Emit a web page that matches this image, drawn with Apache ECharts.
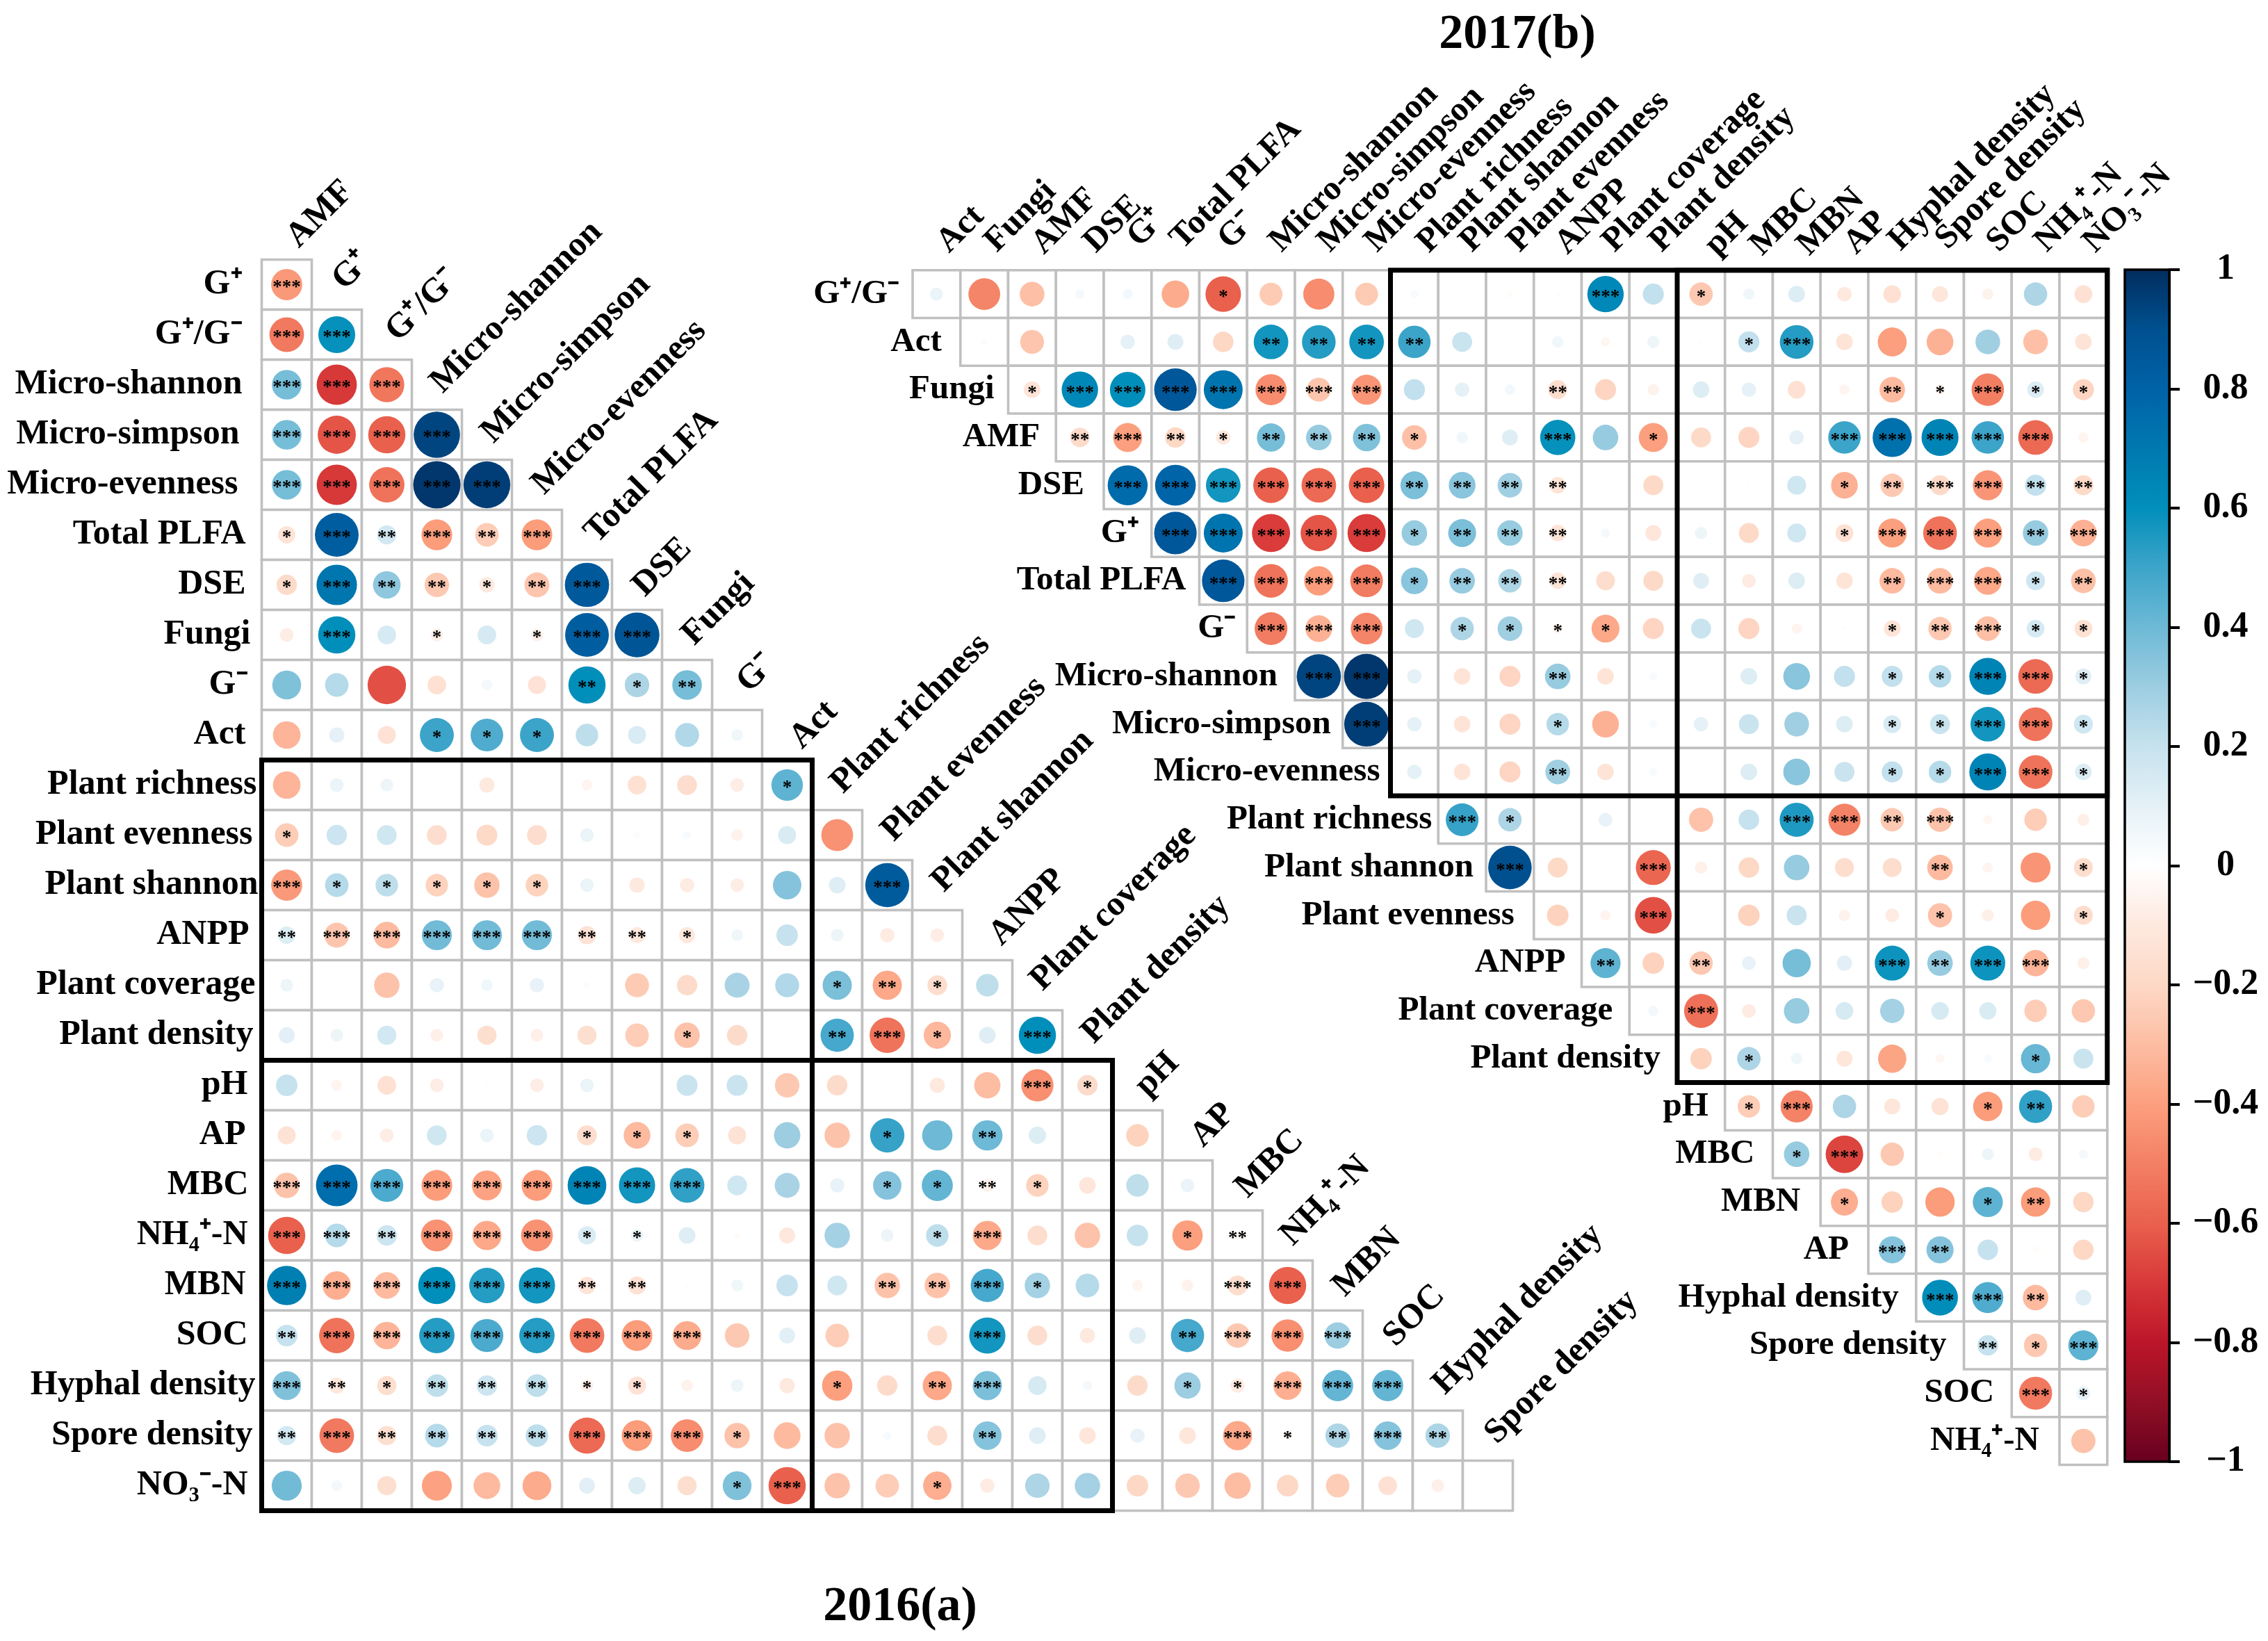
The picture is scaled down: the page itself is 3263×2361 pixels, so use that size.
<!DOCTYPE html>
<html>
<head>
<meta charset="utf-8">
<style>html,body{margin:0;padding:0;background:#fff}#c{width:3263px;height:2361px}</style>
<script src="https://cdn.jsdelivr.net/npm/echarts@6/dist/echarts.min.js"></script>
</head>
<body>
<div id="c"></div>
<script>
// ---------- labels ----------
const rows2016 = ['G⁺','G⁺/G⁻','Micro-shannon','Micro-simpson','Micro-evenness','Total PLFA','DSE','Fungi','G⁻','Act','Plant richness','Plant evenness','Plant shannon','ANPP','Plant coverage','Plant density','pH','AP','MBC','NH₄⁺-N','MBN','SOC','Hyphal density','Spore density','NO₃⁻-N'];
const cols2016 = ['AMF','G⁺','G⁺/G⁻','Micro-shannon','Micro-simpson','Micro-evenness','Total PLFA','DSE','Fungi','G⁻','Act','Plant richness','Plant evenness','Plant shannon','ANPP','Plant coverage','Plant density','pH','AP','MBC','NH₄⁺-N','MBN','SOC','Hyphal density','Spore density'];
const rows2017 = ['G⁺/G⁻','Act','Fungi','AMF','DSE','G⁺','Total PLFA','G⁻','Micro-shannon','Micro-simpson','Micro-evenness','Plant richness','Plant shannon','Plant evenness','ANPP','Plant coverage','Plant density','pH','MBC','MBN','AP','Hyphal density','Spore density','SOC','NH₄⁺-N'];
const cols2017 = ['Act','Fungi','AMF','DSE','G⁺','Total PLFA','G⁻','Micro-shannon','Micro-simpson','Micro-evenness','Plant richness','Plant shannon','Plant evenness','ANPP','Plant coverage','Plant density','pH','MBC','MBN','AP','Hyphal density','Spore density','SOC','NH₄⁺-N','NO₃⁻-N'];
const colorTicks = [-1,-0.8,-0.6,-0.4,-0.2,0,0.2,0.4,0.6,0.8,1];

// ---------- 2016 correlations: row i holds columns 0..i ----------
const r2016 = [
[-.42],
[-.52,.59],
[.38,-.70,-.53],
[.38,-.63,-.6,.93],
[.38,-.7,-.54,.97,.95],
[-.13,.83,.16,-.41,-.24,-.41],
[-.18,.71,.33,-.26,-.1,-.27,.85],
[-.08,.6,.15,-.07,.15,-.07,.83,.87],
[.36,.24,-.64,-.15,.05,-.14,.6,.26,.38],
[-.33,.1,-.14,.5,.46,.5,.22,.14,.25,.06],
[-.33,.08,.07,0,-.1,0,-.05,-.15,-.17,-.08,.43],
[-.24,.18,.17,-.17,-.19,-.17,.08,.02,.03,-.06,.14,-.44],
[-.42,.24,.22,-.22,-.28,-.22,.08,-.1,-.09,-.08,.35,.12,.84],
[.13,-.27,-.31,.39,.39,.39,-.14,-.11,-.11,.06,.2,.07,-.09,-.08],
[.07,0,-.28,.09,.06,.09,-.02,-.25,-.18,.27,.25,.37,-.37,-.17,.22],
[.11,.07,.16,-.07,-.16,-.07,-.16,-.24,-.28,-.18,0,.48,-.54,-.32,.12,.6],
[.2,-.05,-.15,-.08,.01,-.08,.08,0,.19,.19,-.26,-.18,0,-.1,-.3,-.45,-.18],
[-.14,-.05,-.08,.17,.08,.18,-.17,-.31,-.24,-.14,.3,-.28,.51,.4,.4,.13,0,-.22],
[-.28,.75,.47,-.41,-.39,-.41,.65,.57,.52,.17,.27,.09,.35,.42,-.07,-.22,-.12,.22,.08],
[-.6,.24,.18,-.44,-.37,-.44,.14,.07,.12,-.02,-.11,.28,.07,.22,-.37,-.17,-.28,.2,-.4,-.03],
[.67,-.35,-.31,.6,.54,.57,-.13,-.14,.01,.06,.2,.17,-.28,-.28,.48,.28,.24,-.05,-.06,-.17,-.6],
[.2,-.54,-.33,.54,.47,.54,-.52,-.41,-.36,-.26,.11,-.24,0,-.17,.57,-.17,-.1,.12,.48,-.26,-.45,.3],
[.36,-.11,-.16,.22,.18,.22,-.07,-.14,-.06,.07,-.1,-.4,-.18,-.37,.37,.15,.04,-.18,.3,-.09,-.35,.42,.42],
[.16,-.52,-.16,.24,.2,.22,-.57,-.41,-.46,-.28,-.31,-.28,.03,-.17,.35,.12,-.12,.09,-.12,-.37,-.03,.26,.35,.26],
[.39,.05,-.16,-.39,-.31,-.36,.11,.13,-.16,.36,-.6,-.28,-.24,-.35,-.09,.26,.28,-.2,-.26,-.3,-.2,-.24,-.15,-.07,0]
];
const s2016 = [
[3],
[3,3],
[3,3,3],
[3,3,3,3],
[3,3,3,3,3],
[1,3,2,3,2,3],
[1,3,2,2,1,2,3],
[0,3,0,1,0,1,3,3],
[0,0,0,0,0,0,2,1,2],
[0,0,0,1,1,1,0,0,0,0],
[0,0,0,0,0,0,0,0,0,0,1],
[1,0,0,0,0,0,0,0,0,0,0,0],
[3,1,1,1,1,1,0,0,0,0,0,0,3],
[2,3,3,3,3,3,2,2,1,0,0,0,0,0],
[0,0,0,0,0,0,0,0,0,0,0,1,2,1,0],
[0,0,0,0,0,0,0,0,1,0,0,2,3,1,0,3],
[0,0,0,0,0,0,0,0,0,0,0,0,0,0,0,3,1],
[0,0,0,0,0,0,1,1,1,0,0,0,1,0,2,0,0,0],
[3,3,3,3,3,3,3,3,3,0,0,0,1,1,2,1,0,0,0],
[3,3,2,3,3,3,1,1,0,0,0,0,0,1,3,0,0,0,1,2],
[3,3,3,3,3,3,2,2,0,0,0,0,2,2,3,1,0,0,0,3,3],
[2,3,3,3,3,3,3,3,3,0,0,0,0,0,3,0,0,0,2,3,3,3],
[3,2,1,2,2,2,1,1,0,0,0,1,0,2,3,0,0,0,1,1,3,3,3],
[2,3,2,2,2,2,3,3,3,1,0,0,0,0,2,0,0,0,0,3,1,2,3,2],
[0,0,0,0,0,0,0,0,0,1,3,0,0,1,0,0,0,0,0,0,0,0,0,0,0]
];

// ---------- 2017 correlations: row i holds columns i..24 ----------
const r2017 = [
[.08,-.48,-.29,.04,.05,-.36,-.6,-.25,-.46,-.25,.03,0,-.02,-.01,.63,.21,-.26,.06,.13,-.1,-.15,-.12,-.06,.26,-.15],
[.02,-.27,0,.1,.12,-.2,.57,.54,.57,.5,.19,.005,.06,-.04,.07,.01,.21,.54,-.13,-.4,-.34,.29,-.29,-.13],
[-.13,.63,.6,.86,.72,-.46,-.27,-.43,.21,.1,.05,-.17,-.21,-.06,.13,.1,-.15,-.05,-.31,-.05,-.5,.13,-.21],
[-.18,-.4,-.2,-.1,.38,.31,.36,-.29,.06,.12,.59,.31,-.4,-.19,-.21,.1,.5,.73,.65,.5,-.57,-.05],
[.76,.79,.57,-.6,-.57,-.6,.37,.34,.29,-.13,0,-.19,0,.01,.17,-.34,-.26,-.19,-.43,.21,-.19],
[.86,.72,-.69,-.63,-.69,.31,.37,.31,-.13,.04,-.12,.07,-.19,.17,-.15,-.4,-.54,-.4,.31,-.34],
[.86,-.54,-.41,-.51,.34,.31,.26,-.13,-.17,-.19,.12,-.09,.13,-.13,-.31,-.31,-.37,.17,-.29],
[-.51,-.34,-.48,.17,.26,.29,-.05,-.37,-.21,.19,-.21,-.05,-.01,-.13,-.26,-.29,.15,-.15],
[.93,.97,.1,-.13,-.21,.31,-.13,.03,0,.13,.34,.21,.21,.24,.65,-.57,.12],
[.95,.1,-.13,-.21,.24,-.34,.03,.1,.19,.29,.13,.15,.19,.57,-.54,.17],
[.1,-.13,-.21,.29,-.13,.03,0,.13,.34,.19,.21,.24,.65,-.54,.13],
[.51,.26,0,.09,0,-.28,.2,.55,-.49,-.26,-.28,-.04,-.24,-.07],
[.9,-.19,0,-.58,-.07,-.2,.31,-.17,-.17,-.31,-.05,-.43,-.17],
[-.22,-.05,-.64,0,-.22,.19,-.06,-.09,-.28,-.07,-.41,-.17],
[.43,-.22,-.26,.09,.38,.11,.58,.31,.58,-.33,-.07],
[.05,-.55,-.09,.31,.15,.28,.15,.14,-.24,-.26],
[-.22,.26,.06,-.12,-.38,-.04,.03,.41,.19],
[-.24,-.49,.26,-.12,-.14,-.41,.52,-.24],
[.31,-.67,-.26,-.02,.07,-.09,.04],
[-.35,-.22,-.41,.43,-.41,-.2],
[.35,.35,.2,-.02,-.2],
[.61,.46,-.31,.12],
[.2,-.26,.43],
[-.52,.09],
[-.28]
];
const s2017 = [
[0,0,0,0,0,0,1,0,0,0,0,0,0,0,3,0,1,0,0,0,0,0,0,0,0],
[0,0,0,0,0,0,2,2,2,2,0,0,0,0,0,0,1,3,0,0,0,0,0,0],
[1,3,3,3,3,3,3,3,0,0,0,2,0,0,0,0,0,0,2,1,3,1,1],
[2,3,2,1,2,2,2,1,0,0,3,0,1,0,0,0,3,3,3,3,3,0],
[3,3,3,3,3,3,2,2,2,2,0,0,0,0,0,1,2,3,3,2,2],
[3,3,3,3,3,1,2,2,2,0,0,0,0,0,1,3,3,3,2,3],
[3,3,3,3,1,2,2,2,0,0,0,0,0,0,2,3,3,1,2],
[3,3,3,0,1,1,1,1,0,0,0,0,0,1,2,3,1,1],
[3,3,0,0,0,2,0,0,0,0,0,0,1,1,3,3,1],
[3,0,0,0,1,0,0,0,0,0,0,1,1,3,3,1],
[0,0,0,2,0,0,0,0,0,0,1,1,3,3,1],
[3,1,0,0,0,0,0,3,3,2,3,0,0,0],
[3,0,0,3,0,0,0,0,0,2,0,0,1],
[0,0,3,0,0,0,0,0,1,0,0,1],
[2,0,2,0,0,0,3,2,3,3,0],
[0,3,0,0,0,0,0,0,0,0],
[0,1,0,0,0,0,0,1,0],
[1,3,0,0,0,1,2,0],
[1,3,0,0,0,0,0],
[1,0,0,1,2,0],
[3,2,0,0,0],
[3,3,2,0],
[2,1,3],
[3,1],
[0]
];

// ---------- colour ramp, r = -1 to 1 in steps of 0.1 ----------
const ramp = ['#67001f','#900f25','#bb1529','#d73838','#e9604d','#f37f63','#fc9f7e','#fdbda3','#fdd8c5','#fee9df','#ffffff',
              '#e5f1f7','#c6e2ee','#9ccde1','#6db9d6','#3ca4c9','#008fbb','#0078b0','#0062a7','#00508f','#022c5e'];

// ---------- layout (not data) ----------
const P16 = {left:376.5, top:373.5, cell:72};
const P17 = {left:1313, top:388.8, cell:68.75};
const FONT16 = 'bold 50px "Liberation Serif"';
const FONT17 = 'bold 49px "Liberation Serif"';
const rowGap16 = [28,28,28,32,34,23,23,16,20,23,7,13,5,18,9,12,20,23,19,20,23,20,9,13,20];
const rowGap17 = [19,27,20,23,28,18,19,16,25,17,15,9,18,28,23,24,24,24,26,29,28,25,25,25,29];
const colNudge16 = [[18,-15],[12,-26],[17,-24],[9,-22],[10,-22],[11,-20],[15,-22],[12,-17],[11,-19],[18,-23],[22,-14],[9,-22],[10,-25],[10,-24],[21,-19],[8,-26],[10,-22],[15,-18],[23,-17],[15,-16],[8,-19],[11,-18],[12,-18],[11,-21],[14,-22]];
const colDx17 = [19,19,18,24,18,11,11,16,17,16,22,15,15,15,14,13,24,20,19,18,13,12,17,17,18];
const colY17 = [366,365,368,366,358,361,361,365,365,365,366,365,365,368,365,365,370,370,370,368,363,361,365,365,366];
const boxes16 = [[0,10,11,25],[0,16,17,25]];
const boxes17 = [[10,0,25,11],[16,0,25,17]];

function triCells(r, s, startAt){
  const cells=[], marks=[];
  r.forEach((row,i)=>row.forEach((v,k)=>{
    const j = startAt(i)+k;
    cells.push([j,i]);
    marks.push([j,i,v,s[i][k]]);
  }));
  return {cells,marks};
}
const t16 = triCells(r2016,s2016,()=>0);
const t17 = triCells(r2017,s2017,i=>i);

function cellSeries(idx,cells){
  return {type:'custom',xAxisIndex:idx,yAxisIndex:idx,z:1,silent:true,data:cells,encode:{x:0,y:1},
    renderItem(p,api){
      const c=api.coord([api.value(0),api.value(1)]),w=api.size([1,0])[0];
      return {type:'rect',shape:{x:c[0]-w/2,y:c[1]-w/2,width:w,height:w},
        style:{fill:'#fff',stroke:'#c0c0c0',lineWidth:3.6}};
    }};
}
function markSeries(idx,marks,cell){
  return {type:'scatter',xAxisIndex:idx,yAxisIndex:idx,z:2,silent:true,data:marks,
    encode:{x:0,y:1},
    symbol:'circle',
    itemStyle:{opacity:1},
    symbolSize:v=>0.96*cell*Math.sqrt(Math.abs(v[2])),
    label:{show:true,position:'inside',color:'#000',
      fontFamily:'Liberation Serif',fontWeight:'bold',fontSize:27,offset:[0,5],
      formatter:p=>'*'.repeat(p.value[3])}};
}
function boxSeries(idx,boxes){
  return {type:'custom',xAxisIndex:idx,yAxisIndex:idx,z:3,silent:true,data:boxes,
    encode:{x:0,y:1},
    renderItem(p,api){
      const w=api.size([1,0])[0];
      const a=api.coord([api.value(0),api.value(1)]),b=api.coord([api.value(2),api.value(3)]);
      return {type:'rect',shape:{x:a[0]-w/2,y:a[1]-w/2,width:b[0]-a[0],height:b[1]-a[1]},
        style:{fill:'none',stroke:'#000',lineWidth:7}};
    }};
}
function textSeries(idx,items){
  return {type:'custom',xAxisIndex:idx,yAxisIndex:idx,z:4,silent:true,
    data:items.map(it=>[it.col,it.row]),encode:{x:0,y:1},
    renderItem(p,api){
      const it=items[p.dataIndex];
      const c=api.coord([api.value(0),api.value(1)]);
      return {type:'text',x:c[0]+it.dx,y:c[1]+it.dy,rotation:it.rot?Math.PI/4:0,
        style:{text:it.text,fill:'#000',font:it.font,align:it.rot?'left':'right',verticalAlign:'middle'}};
    }};
}
const labels16=[], labels17=[];
const c16=P16.cell, c17=P17.cell;
rows2016.forEach((t,i)=>labels16.push({col:0,row:i,text:t,font:FONT16,rot:0,dx:-c16/2-rowGap16[i],dy:0}));
cols2016.forEach((t,j)=>labels16.push({col:j,row:j,text:t,font:FONT16,rot:1,dx:colNudge16[j][0]-10,dy:-c16/2+colNudge16[j][1]-10}));
rows2017.forEach((t,i)=>labels17.push({col:i,row:i,text:t,font:FONT17,rot:0,dx:-c17/2-rowGap17[i],dy:0}));
cols2017.forEach((t,j)=>labels17.push({col:j,row:0,text:t,font:FONT17,rot:1,dx:colDx17[j]-10,dy:colY17[j]-P17.top-c17/2-10}));

const ser = [
  cellSeries(0,t16.cells), markSeries(0,t16.marks,c16), boxSeries(0,boxes16), textSeries(0,labels16),
  cellSeries(1,t17.cells), markSeries(1,t17.marks,c17), boxSeries(1,boxes17), textSeries(1,labels17),
  {type:'custom',xAxisIndex:2,yAxisIndex:2,silent:true,z:1,data:[[0,-1,1]],encode:{x:0,y:[1,2]},
    renderItem(p,api){
      const a=api.coord([0,api.value(2)]),b=api.coord([0,api.value(1)]),w=api.size([1,0])[0];
      const stops=ramp.map((col,i)=>({offset:1-i/(ramp.length-1),color:col})).reverse();
      return {type:'rect',shape:{x:a[0]-w/2,y:a[1],width:w,height:b[1]-a[1]},
        style:{fill:{type:'linear',x:0,y:0,x2:0,y2:1,colorStops:stops},stroke:'#000',lineWidth:3.5}};
    }}
];
const hiddenCat=(grid,data,inv)=>({type:'category',gridIndex:grid,data,inverse:!!inv,boundaryGap:true,show:false});

const chart=echarts.init(document.getElementById('c'),null,{renderer:'canvas'});
chart.setOption({
  animation:false,
  backgroundColor:'#fff',
  title:[
    {text:'2017(b)',left:2178,top:46,textAlign:'center',textVerticalAlign:'middle',textStyle:{fontFamily:'Liberation Serif',fontWeight:'bold',fontSize:70,color:'#000'}},
    {text:'2016(a)',left:1290,top:2308,textAlign:'center',textVerticalAlign:'middle',textStyle:{fontFamily:'Liberation Serif',fontWeight:'bold',fontSize:70,color:'#000'}}
  ],
  visualMap:{show:false,seriesIndex:[1,5],dimension:2,min:-1,max:1,inRange:{color:ramp}},
  grid:[
    {left:P16.left,top:P16.top,width:c16*25,height:c16*25},
    {left:P17.left,top:P17.top,width:c17*25,height:c17*25},
    {left:3057,top:388,width:64,height:1715}
  ],
  xAxis:[hiddenCat(0,cols2016),hiddenCat(1,cols2017),hiddenCat(2,[''])],
  yAxis:[hiddenCat(0,rows2016,true),hiddenCat(1,rows2017,true),
    {type:'value',gridIndex:2,min:colorTicks[0],max:colorTicks[colorTicks.length-1],interval:0.2,position:'right',
      splitLine:{show:false},
      axisLine:{show:true,lineStyle:{color:'#000',width:4}},
      axisTick:{show:true,length:15,lineStyle:{color:'#000',width:4}},
      axisLabel:{show:true,margin:81,align:'center',color:'#000',fontFamily:'Liberation Serif',fontWeight:'bold',fontSize:52,padding:[8,0,0,0],
        formatter:v=>{const x=Math.round(v*10)/10;return (x<0?'\u2212':'')+Math.abs(x);}}}
  ],
  series:ser
});
</script>
</body>
</html>
